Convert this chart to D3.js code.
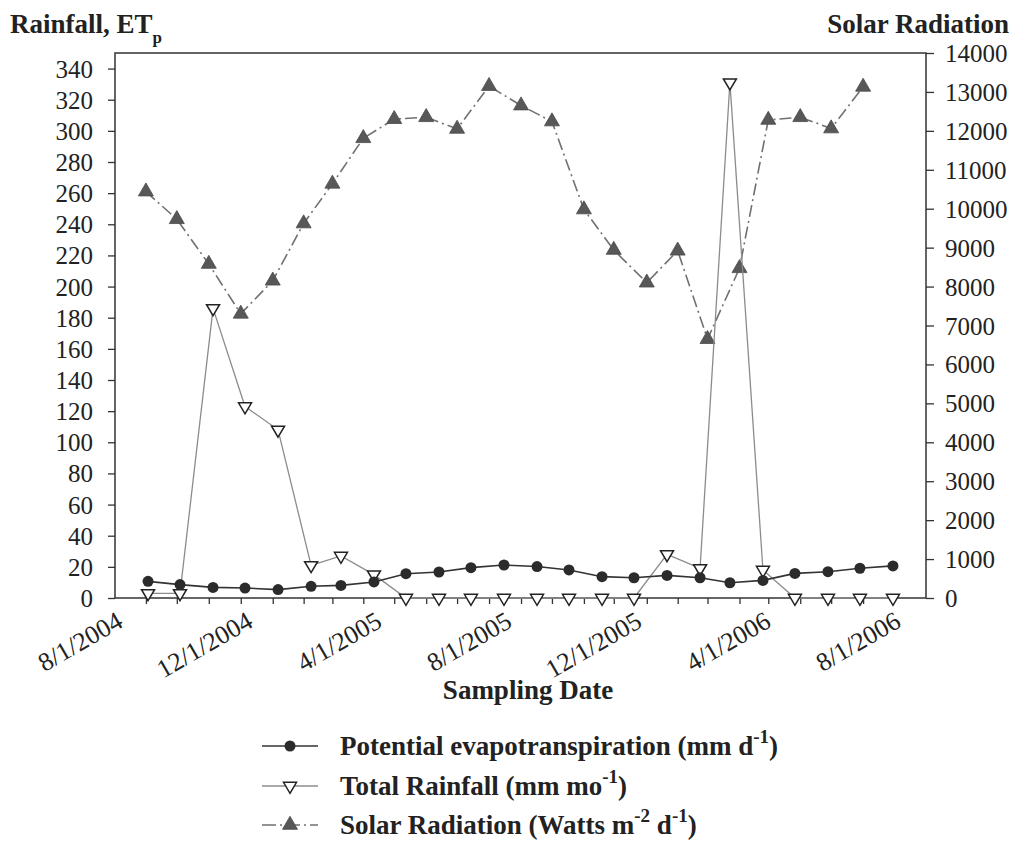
<!DOCTYPE html>
<html>
<head>
<meta charset="utf-8">
<script src="https://cdn.jsdelivr.net/npm/d3@7"></script>
<style>
  html, body { margin: 0; padding: 0; background: #fff; }
  svg { display: block; }
</style>
</head>
<body>
<svg id="chart" width="1019" height="849"></svg>
<script>
// ---------------- data ----------------
const sampleDates = ["2004-09-01","2004-10-01","2004-11-01","2004-12-01","2005-01-01","2005-02-01",
  "2005-03-01","2005-04-01","2005-05-01","2005-06-01","2005-07-01","2005-08-01","2005-09-01",
  "2005-10-01","2005-11-01","2005-12-01","2006-01-01","2006-02-01","2006-03-01","2006-04-01",
  "2006-05-01","2006-06-01","2006-07-01","2006-08-01"];
const etValues = [10.7, 8.6, 6.8, 6.4, 5.4, 7.5, 8.1, 10.3, 15.6, 16.7, 19.5, 21.2, 20.2, 18.0,
  13.7, 13.0, 14.5, 13.0, 9.8, 11.3, 15.8, 16.9, 19.1, 20.6];
const rainValues = [3, 3, 186, 123, 108, 21, 27, 15, 0, 0, 0, 0, 0, 0, 0, 0, 28, 19, 331, 18, 0, 0, 0, 0];
const solarDates = ["2004-08-30","2004-09-28","2004-10-28","2004-11-27","2004-12-27","2005-01-25",
  "2005-02-21","2005-03-22","2005-04-20","2005-05-20","2005-06-18","2005-07-18","2005-08-17",
  "2005-09-15","2005-10-15","2005-11-12","2005-12-13","2006-01-11","2006-02-08","2006-03-10",
  "2006-04-06","2006-05-06","2006-06-04","2006-07-04"];
const solarValues = [10440, 9730, 8580, 7300, 8150, 9620, 10640, 11810, 12300, 12350, 12050, 13150,
  12650, 12240, 9980, 8940, 8100, 8920, 6650, 8470, 12280, 12350, 12060, 13130];
const leftTicks = [0,20,40,60,80,100,120,140,160,180,200,220,240,260,280,300,320,340];
const rightTicks = [0,1000,2000,3000,4000,5000,6000,7000,8000,9000,10000,11000,12000,13000,14000];
const xLabelDates = ["2004-08-01","2004-12-01","2005-04-01","2005-08-01","2005-12-01","2006-04-01","2006-08-01"];
const xDomain = ["2004-08-01","2006-09-01"];
const legendLabels = [
  {text: "Potential evapotranspiration (mm d", sup: "-1", tail: ")"},
  {text: "Total Rainfall (mm mo", sup: "-1", tail: ")"},
  {text: "Solar Radiation (Watts m", sup: "-2", mid: " d", sup2: "-1", tail: ")"}
];

// ---------------- layout ----------------
const L = 115, R = 926, T = 53, B = 598;
const FONT = '"Liberation Serif"';
const parse = d3.timeParse("%Y-%m-%d");
const fmt = d => (d.getMonth()+1) + "/" + d.getDate() + "/" + d.getFullYear();

const svg = d3.select("#chart");
const x = d3.scaleTime().domain(xDomain.map(parse)).range([L, R]);
const yL = d3.scaleLinear().domain([0, 350]).range([B, T]);
const yR = d3.scaleLinear().domain([0, 14000]).range([B, T]);

const FS = 25;
function styleTicks(g) {
  g.attr("font-family", null).attr("font-size", null);
  g.select(".domain").remove();
  g.selectAll("line").attr("stroke", "#333").attr("stroke-width", 1.3);
  g.selectAll("text").attr("fill", "#222").attr("font-family", FONT).attr("font-size", FS);
}

// left axis
const gL = svg.append("g").attr("transform", `translate(${L},0)`)
  .call(d3.axisLeft(yL).tickValues(leftTicks).tickSize(7).tickSizeOuter(0).tickPadding(15));
styleTicks(gL);
gL.selectAll("text").attr("dy", "0.34em");

// right axis
const gR = svg.append("g").attr("transform", `translate(${R},0)`)
  .call(d3.axisRight(yR).tickValues(rightTicks).tickSize(8).tickSizeOuter(0).tickPadding(11)
    .tickFormat(d3.format("d")));
styleTicks(gR);
gR.selectAll("text").attr("dy", "0.34em");

// x tick marks
const gX = svg.append("g").attr("transform", `translate(0,${B})`)
  .call(d3.axisBottom(x).tickValues(solarDates.map(parse)).tickSize(6).tickSizeOuter(0).tickFormat(""));
styleTicks(gX);

// x labels
const gXL = svg.append("g").attr("transform", `translate(0,${B})`)
  .call(d3.axisBottom(x).tickValues(xLabelDates.map(parse)).tickSize(0).tickFormat(fmt));
styleTicks(gXL);
gXL.selectAll("text")
  .attr("font-size", 26)
  .attr("text-anchor", "end")
  .attr("transform", "translate(9,28) rotate(-30)")
  .attr("x", 0).attr("y", 0).attr("dy", 0);

// plot frame
svg.append("rect").attr("x", L).attr("y", T).attr("width", R - L).attr("height", B - T)
  .attr("fill", "none").attr("stroke", "#333").attr("stroke-width", 1.5);

// ---------------- series ----------------
const solar = solarDates.map((d, i) => ({d: parse(d), v: solarValues[i]}));
const et = sampleDates.map((d, i) => ({d: parse(d), v: etValues[i]}));
const rain = sampleDates.map((d, i) => ({d: parse(d), v: rainValues[i]}));

const triUp = (w, h) => `M0,${-h*2/3}L${w/2},${h/3}L${-w/2},${h/3}Z`;
const triDown = (w, h) => `M0,${h*2/3}L${w/2},${-h/3}L${-w/2},${-h/3}Z`;

// solar
svg.append("path").datum(solar)
  .attr("fill", "none").attr("stroke", "#707070").attr("stroke-width", 1.6)
  .attr("stroke-dasharray", "12,4,2,4")
  .attr("d", d3.line().x(d => x(d.d)).y(d => yR(d.v)));
svg.append("g").selectAll("path").data(solar).join("path")
  .attr("transform", d => `translate(${x(d.d)},${yR(d.v)})`)
  .attr("d", triUp(15, 13)).attr("fill", "#585858").attr("stroke", "#4a4a4a").attr("stroke-width", 0.8);

// rain
svg.append("path").datum(rain)
  .attr("fill", "none").attr("stroke", "#8c8c8c").attr("stroke-width", 1.3)
  .attr("d", d3.line().x(d => x(d.d)).y(d => yL(d.v)));
svg.append("g").selectAll("path").data(rain).join("path")
  .attr("transform", d => `translate(${x(d.d)},${yL(d.v)})`)
  .attr("d", triDown(13, 11)).attr("fill", "#fff").attr("stroke", "#222").attr("stroke-width", 1.5);

// ET
svg.append("path").datum(et)
  .attr("fill", "none").attr("stroke", "#333").attr("stroke-width", 1.6)
  .attr("d", d3.line().x(d => x(d.d)).y(d => yL(d.v)));
svg.append("g").selectAll("circle").data(et).join("circle")
  .attr("cx", d => x(d.d)).attr("cy", d => yL(d.v)).attr("r", 5.5)
  .attr("fill", "#2b2b2b");

// ---------------- titles ----------------
function txt(sel) { return sel.attr("font-family", FONT).attr("fill", "#222").attr("font-weight", "bold"); }
const tl = txt(svg.append("text")).attr("x", 10).attr("y", 33).attr("font-size", 27);
tl.append("tspan").text("Rainfall, ET");
tl.append("tspan").text("p").attr("font-size", 17).attr("dy", 10);

txt(svg.append("text")).attr("x", 1009).attr("y", 33).attr("text-anchor", "end")
  .attr("font-size", 27).text("Solar Radiation");

txt(svg.append("text")).attr("x", 528).attr("y", 699).attr("text-anchor", "middle")
  .attr("font-size", 27).text("Sampling Date");

// ---------------- legend ----------------
const legY = [746, 786, 825];
const lg = svg.append("g");
legendLabels.forEach((lab, i) => {
  const y = legY[i];
  const g = lg.append("g");
  if (i === 0) {
    g.append("line").attr("x1", 262).attr("x2", 318).attr("y1", y).attr("y2", y)
      .attr("stroke", "#333").attr("stroke-width", 1.6);
    g.append("circle").attr("cx", 290).attr("cy", y).attr("r", 5.5).attr("fill", "#2b2b2b");
  } else if (i === 1) {
    g.append("line").attr("x1", 262).attr("x2", 318).attr("y1", y).attr("y2", y)
      .attr("stroke", "#8c8c8c").attr("stroke-width", 1.3);
    g.append("path").attr("transform", `translate(290,${y})`).attr("d", triDown(13, 11))
      .attr("fill", "#fff").attr("stroke", "#222").attr("stroke-width", 1.5);
  } else {
    g.append("line").attr("x1", 262).attr("x2", 318).attr("y1", y).attr("y2", y)
      .attr("stroke", "#707070").attr("stroke-width", 1.6).attr("stroke-dasharray", "14,4,2,4");
    g.append("path").attr("transform", `translate(290,${y})`).attr("d", triUp(15, 13))
      .attr("fill", "#585858").attr("stroke", "#4a4a4a").attr("stroke-width", 0.8);
  }
  const t = txt(g.append("text")).attr("x", 340).attr("y", y + 9).attr("font-size", 27);
  t.append("tspan").text(lab.text);
  t.append("tspan").text(lab.sup).attr("font-size", 19).attr("dy", -12);
  if (lab.mid) {
    t.append("tspan").text(lab.mid).attr("dy", 12);
    t.append("tspan").text(lab.sup2).attr("font-size", 19).attr("dy", -12);
  }
  t.append("tspan").text(lab.tail).attr("dy", 12);
});
</script>
</body>
</html>
